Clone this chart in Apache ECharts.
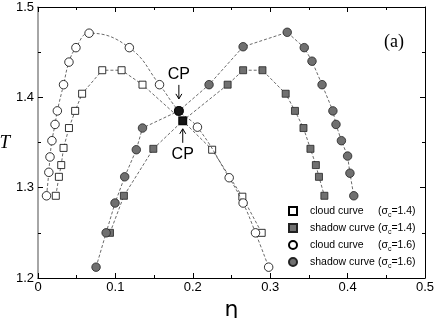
<!DOCTYPE html>
<html><head><meta charset="utf-8">
<script src="https://cdn.jsdelivr.net/npm/echarts@6/dist/echarts.min.js"></script>
<style>html,body{margin:0;padding:0;background:#fff}#c{width:436px;height:318px}</style>
</head><body><div id="c"></div>
<script>
// ---- data ----
const xTicks = [0, 0.1, 0.2, 0.3, 0.4, 0.5];
const xTickLabels = ['0', '0.1', '0.2', '0.3', '0.4', '0.5'];
const yTicks = [1.2, 1.3, 1.4, 1.5];
const yTickLabels = ['1.2', '1.3', '1.4', '1.5'];

const cloud14 = [[0.023,1.291],[0.027,1.312],[0.030,1.325],[0.033,1.344],[0.040,1.366],[0.048,1.385],[0.057,1.404],[0.083,1.430],[0.108,1.430],[0.135,1.414],[0.187,1.374],[0.225,1.342],[0.264,1.290],[0.289,1.250]];
const shadow14 = [[0.093,1.250],[0.111,1.291],[0.149,1.343],[0.187,1.374],[0.245,1.414],[0.265,1.430],[0.290,1.430],[0.320,1.404],[0.332,1.385],[0.343,1.366],[0.352,1.343],[0.359,1.325],[0.363,1.312],[0.370,1.291]];
const cloud16 = [[0.011,1.291],[0.014,1.317],[0.0155,1.334],[0.018,1.352],[0.022,1.370],[0.025,1.385],[0.033,1.414],[0.040,1.439],[0.049,1.455],[0.066,1.471],[0.118,1.455],[0.157,1.414],[0.182,1.385],[0.206,1.367],[0.247,1.311],[0.265,1.283],[0.281,1.250],[0.298,1.212]];
const shadow16 = [[0.075,1.212],[0.088,1.250],[0.0995,1.283],[0.112,1.312],[0.127,1.342],[0.135,1.366],[0.182,1.385],[0.221,1.414],[0.265,1.456],[0.322,1.472],[0.344,1.455],[0.354,1.440],[0.367,1.414],[0.381,1.385],[0.385,1.370],[0.392,1.352],[0.400,1.335],[0.403,1.316],[0.408,1.291]];
const cpCircle = [0.182, 1.385];
const cpSquare = [0.187, 1.374];

const seriesKeys = ['cloud14', 'shadow14', 'cloud16', 'shadow16'];
const curveNames = ['cloud curve', 'shadow curve', 'cloud curve', 'shadow curve'];
const sigmaValues = ['1.4', '1.4', '1.6', '1.6'];
const cpLabel = 'CP';
const panelLabel = '(a)';
const xName = 'η';
const yName = 'T';

// ---- chart ----
const chart = echarts.init(document.getElementById('c'), null, {renderer: 'canvas'});
const FONT = 'Liberation Sans, Arial, sans-serif';
const tickFmt = (ticks, labels) => v => {
  const i = ticks.findIndex(t => Math.abs(t - v) < 1e-9);
  return i >= 0 ? labels[i] : '';
};
const dash = {type: [3, 2], width: 0.8, color: '#444'};
const openStyle = {color: '#fff', borderColor: '#000', borderWidth: 0.8};
const grayStyle = {color: '#707070', borderColor: '#222', borderWidth: 0.8};

function axisCommon(extra) {
  return Object.assign({
    type: 'value', splitLine: {show: false},
    axisLine: {show: true, onZero: false, lineStyle: {color: '#000', width: 1}},
    axisTick: {show: true, inside: true, length: 5, lineStyle: {color: '#000'}},
    minorTick: {show: true, splitNumber: 2, length: 3, lineStyle: {color: '#000'}},
    minorSplitLine: {show: false}
  }, extra);
}

const dataSets = [cloud14, shadow14, cloud16, shadow16];
const lineSeries = dataSets.map((d, i) => ({
  name: seriesKeys[i], type: 'line', data: d,
  symbol: i < 2 ? 'rect' : 'circle',
  symbolSize: i < 2 ? 7 : 8.5,
  showAllSymbol: true,
  smooth: i === 2 ? 0.45 : false,
  lineStyle: dash,
  itemStyle: (i % 2 === 0) ? openStyle : grayStyle,
  z: 3 + i, animation: false
}));

const option = {
  animation: false,
  backgroundColor: '#fff',
  grid: {left: 38, right: 11, top: 7, bottom: 40, containLabel: false, outerBoundsMode: 'none'},
  title: {text: panelLabel, right: 32, top: 33, padding: 0,
    textStyle: {fontFamily: 'Liberation Serif, serif', fontSize: 18, fontWeight: 'normal', color: '#000'}},
  xAxis: [
    axisCommon({min: 0, max: 0.5, interval: 0.1, position: 'bottom',
      axisLabel: {fontSize: 13, fontFamily: FONT, color: '#000', margin: 3, formatter: tickFmt(xTicks, xTickLabels)},
      name: xName, nameLocation: 'middle', nameGap: 11,
      nameTextStyle: {fontSize: 22, fontFamily: 'DejaVu Sans, sans-serif', color: '#000', verticalAlign: 'top'}}),
    axisCommon({min: 0, max: 0.5, interval: 0.1, position: 'top', axisLabel: {show: false}})
  ],
  yAxis: [
    axisCommon({min: 1.2, max: 1.5, interval: 0.1, position: 'left',
      axisLine: {show: true, onZero: false, lineStyle: {color: '#888', width: 1.5}},
      axisLabel: {fontSize: 13, fontFamily: FONT, color: '#000', margin: 4, formatter: tickFmt(yTicks, yTickLabels)},
      name: yName, nameLocation: 'middle', nameRotate: 0, nameGap: 25,
      nameTextStyle: {fontSize: 19, fontFamily: 'Liberation Serif, serif', fontStyle: 'italic', color: '#000'}}),
    axisCommon({min: 1.2, max: 1.5, interval: 0.1, position: 'right', axisLabel: {show: false}})
  ],
  legend: {
    orient: 'vertical', left: 281, top: 203, itemWidth: 24, itemHeight: 10, itemGap: 1, padding: 0,
    data: seriesKeys,
    lineStyle: {color: 'rgba(0,0,0,0)', width: 0},
    formatter: name => {
      const i = seriesKeys.indexOf(name);
      return '{n|' + curveNames[i] + '}{p| (σ}{s|c}{p|=' + sigmaValues[i] + ')}';
    },
    textStyle: {fontSize: 10.5, fontFamily: FONT, color: '#000', lineHeight: 16,
      rich: {
        n: {fontSize: 10.5, fontFamily: FONT, width: 65, lineHeight: 16, verticalAlign: 'middle'},
        p: {fontSize: 10.5, fontFamily: FONT, lineHeight: 16, verticalAlign: 'middle'},
        s: {fontSize: 7, fontFamily: FONT, lineHeight: 7, verticalAlign: 'bottom'}
      }}
  },
  series: lineSeries.concat([
    {name: 'cpC', type: 'scatter', data: [cpCircle], symbol: 'circle', symbolSize: 10,
      itemStyle: {color: '#000'}, z: 10},
    {name: 'cpS', type: 'scatter', data: [cpSquare], symbol: 'rect', symbolSize: 9,
      itemStyle: {color: '#000'}, z: 10}
  ])
};
chart.setOption(option);

// CP annotations anchored to the CP data points
const pc = chart.convertToPixel({xAxisIndex: 0, yAxisIndex: 0}, cpCircle);
const ps = chart.convertToPixel({xAxisIndex: 0, yAxisIndex: 0}, cpSquare);
const arrow = (x, y1, y2) => {
  const dir = y2 > y1 ? 1 : -1;
  return [
    {type: 'line', shape: {x1: x, y1: y1, x2: x, y2: y2}, style: {stroke: '#000', lineWidth: 1}, z: 20},
    {type: 'polyline', shape: {points: [[x - 3, y2 - dir * 5], [x, y2], [x + 3, y2 - dir * 5]]}, style: {stroke: '#000', lineWidth: 1, fill: null}, z: 20}
  ];
};
chart.setOption({
  graphic: [
    {type: 'text', x: pc[0], y: pc[1] - 36, style: {text: cpLabel, fontSize: 16, fontFamily: FONT, fill: '#000', align: 'center', verticalAlign: 'middle'}, z: 20},
    ...arrow(pc[0], pc[1] - 26, pc[1] - 12),
    {type: 'text', x: ps[0], y: ps[1] + 34, style: {text: cpLabel, fontSize: 16, fontFamily: FONT, fill: '#000', align: 'center', verticalAlign: 'middle'}, z: 20},
    ...arrow(ps[0], ps[1] + 22, ps[1] + 8)
  ]
});
</script></body></html>
